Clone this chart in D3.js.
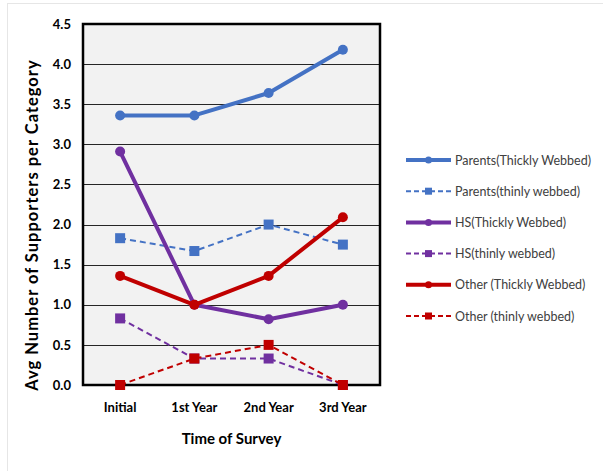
<!DOCTYPE html>
<html><head><meta charset="utf-8">
<script src="https://cdn.jsdelivr.net/npm/d3@7"></script>
<style>body{margin:0;background:#fff}svg{display:block}</style>
</head><body><div id="chart"></div>
<script>
const categories = ["Initial", "1st Year", "2nd Year", "3rd Year"];
const yTicks = [0, 0.5, 1.0, 1.5, 2.0, 2.5, 3.0, 3.5, 4.0, 4.5];
const seriesNames = ["Parents(Thickly Webbed)", "Parents(thinly webbed)", "HS(Thickly Webbed)", "HS(thinly webbed)", "Other (Thickly Webbed)", "Other (thinly webbed)"];
const parentsThick = [3.36, 3.36, 3.64, 4.18];
const parentsThin = [1.83, 1.67, 2.0, 1.75];
const hsThick = [2.91, 1.0, 0.82, 1.0];
const hsThin = [0.83, 0.33, 0.33, 0.0];
const otherThick = [1.36, 1.0, 1.36, 2.09];
const otherThin = [0.0, 0.33, 0.5, 0.0];

const series = [
  {name: seriesNames[0], values: parentsThick, color: "#4472C4", thick: true},
  {name: seriesNames[1], values: parentsThin, color: "#4472C4", thick: false},
  {name: seriesNames[2], values: hsThick, color: "#7030A0", thick: true},
  {name: seriesNames[3], values: hsThin, color: "#7030A0", thick: false},
  {name: seriesNames[4], values: otherThick, color: "#C00000", thick: true},
  {name: seriesNames[5], values: otherThin, color: "#C00000", thick: false}
];

const W = 603, H = 471;
const m = {left: 83, right: 380, top: 24, bottom: 385};
const svg = d3.select("#chart").append("svg").attr("width", W).attr("height", H);
const font = "Lato, 'Open Sans', sans-serif";

// outer frame
svg.append("rect").attr("x", 7.5).attr("y", 3.5).attr("width", W + 10).attr("height", H + 10)
  .attr("fill", "#fff").attr("stroke", "#e6e6e6").attr("stroke-width", 1);

const x = d3.scaleBand().domain(categories).range([m.left, m.right]);
const y = d3.scaleLinear().domain([0, 4.5]).range([m.bottom, m.top]);

svg.append("rect").attr("x", m.left).attr("y", m.top).attr("width", m.right - m.left).attr("height", m.bottom - m.top)
  .attr("fill", "#f2f2f2");

// gridlines
svg.append("g").selectAll("line").data(yTicks.slice(1, -1)).join("line")
  .attr("x1", m.left).attr("x2", m.right)
  .attr("y1", d => Math.round(y(d)) + 0.5).attr("y2", d => Math.round(y(d)) + 0.5)
  .attr("stroke", "#262626").attr("stroke-width", 1);

// border
svg.append("rect").attr("x", m.left).attr("y", m.top).attr("width", m.right - m.left).attr("height", m.bottom - m.top)
  .attr("fill", "none").attr("stroke", "#000").attr("stroke-width", 2.5);

// y axis
const yAxis = svg.append("g").attr("transform", `translate(${m.left},0)`)
  .call(d3.axisLeft(y).tickValues(yTicks).tickFormat(d3.format(".1f")).tickSize(0).tickPadding(12));
yAxis.select(".domain").remove();
yAxis.selectAll("text").attr("font-family", font).attr("font-size", 13).attr("font-weight", "bold").attr("fill", "#000");

// x axis
const xAxis = svg.append("g").attr("transform", `translate(0,${m.bottom})`)
  .call(d3.axisBottom(x).tickSize(0).tickPadding(18));
xAxis.select(".domain").remove();
xAxis.selectAll("text").attr("font-family", font).attr("font-size", 13).attr("font-weight", "bold").attr("fill", "#000");

// axis titles
svg.append("text").attr("x", (m.left + m.right) / 2).attr("y", 444).attr("text-anchor", "middle")
  .attr("font-family", font).attr("font-size", 15).attr("font-weight", "bold").text("Time of Survey");
svg.append("text").attr("transform", `translate(38,225) rotate(-90)`).attr("text-anchor", "middle")
  .attr("font-family", font).attr("font-size", 16.5).attr("font-weight", "bold").attr("letter-spacing", 1)
  .text("Avg Number of Supporters per Category");

const line = d3.line().x((d, i) => x(categories[i]) + x.bandwidth() / 2).y(d => y(d));
const plot = svg.append("g");
const order = [1, 3, 5, 0, 2, 4];
order.forEach(k => {
  const s = series[k];
  const g = plot.append("g");
  g.append("path").attr("d", line(s.values)).attr("fill", "none").attr("stroke", s.color)
    .attr("stroke-width", s.thick ? 4 : 2).attr("stroke-dasharray", s.thick ? null : "6,4")
    .attr("stroke-linejoin", "round");
  if (s.thick) {
    g.selectAll("circle").data(s.values).join("circle")
      .attr("cx", (d, i) => x(categories[i]) + x.bandwidth() / 2).attr("cy", d => y(d)).attr("r", 5).attr("fill", s.color);
  } else {
    g.selectAll("rect").data(s.values).join("rect")
      .attr("x", (d, i) => x(categories[i]) + x.bandwidth() / 2 - 5).attr("y", d => y(d) - 5)
      .attr("width", 10).attr("height", 10).attr("fill", s.color);
  }
});

// legend
const leg = svg.append("g");
series.forEach((s, i) => {
  const yy = 160 + i * 31.2;
  const g = leg.append("g");
  g.append("line").attr("x1", 406).attr("x2", 451).attr("y1", yy).attr("y2", yy)
    .attr("stroke", s.color).attr("stroke-width", s.thick ? 4 : 2).attr("stroke-dasharray", s.thick ? null : "5,3");
  if (s.thick) g.append("circle").attr("cx", 428.5).attr("cy", yy).attr("r", 3.5).attr("fill", s.color);
  else g.append("rect").attr("x", 425).attr("y", yy - 3.5).attr("width", 7).attr("height", 7).attr("fill", s.color);
  g.append("text").attr("x", 455).attr("y", yy + 4.5).attr("font-family", font).attr("font-size", 12.5)
    .attr("fill", "#404040").text(s.name);
});
</script></body></html>
